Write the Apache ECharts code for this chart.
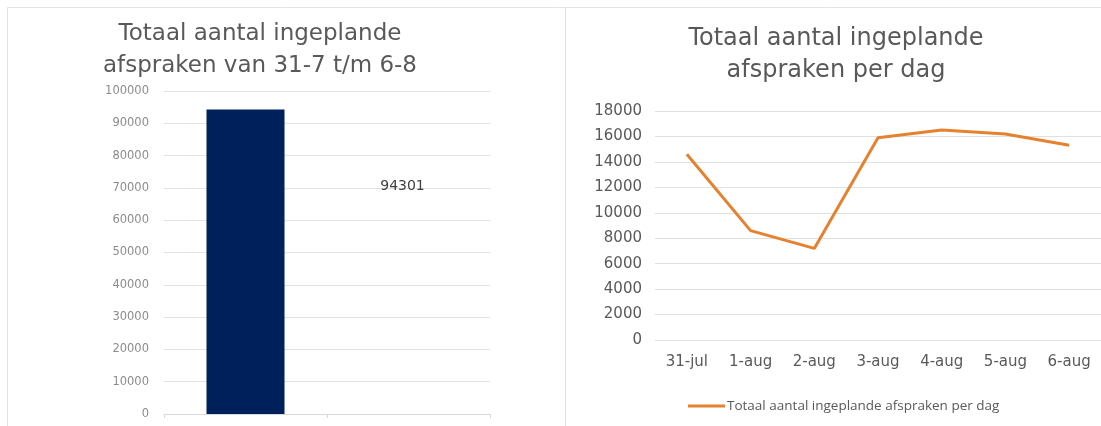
<!DOCTYPE html>
<html>
<head>
<meta charset="utf-8">
<script src="https://cdn.jsdelivr.net/npm/echarts@6/dist/echarts.min.js"></script>
<style>html,body{margin:0;padding:0;background:#fff;}#c{width:1101px;height:426px;}</style>
</head>
<body>
<div id="c"></div>
<script>
var totalCategories = ['', ''];
var totalValues = [94301, null];
var totalLabel = '94301';
var dayCategories = ['31-jul', '1-aug', '2-aug', '3-aug', '4-aug', '5-aug', '6-aug'];
var dayValues = [14600, 8600, 7200, 15900, 16500, 16200, 15301];
var seriesName = 'Totaal aantal ingeplande afspraken per dag';
var leftTitle = 'Totaal aantal ingeplande\nafspraken van 31-7 t/m 6-8';
var rightTitle = 'Totaal aantal ingeplande\nafspraken per dag';

var chart = echarts.init(document.getElementById('c'), null, {renderer: 'canvas'});
var font = 'DejaVu Sans';
var plain = function (v) { return String(v); };
chart.setOption({
  animation: false,
  backgroundColor: '#ffffff',
  title: [
    {text: leftTitle, left: 255, top: 13, textAlign: 'center',
     textStyle: {fontFamily: font, fontSize: 23, fontWeight: 'normal', color: '#595959', lineHeight: 32}},
    {text: rightTitle, left: 831, top: 18, textAlign: 'center',
     textStyle: {fontFamily: font, fontSize: 24, fontWeight: 'normal', color: '#595959', lineHeight: 32}}
  ],
  legend: {
    show: true, left: 683, top: 394, itemWidth: 37, itemHeight: 3, itemGap: 2,
    icon: 'rect',
    textStyle: {fontFamily: 'Open Sans', fontSize: 13.5, color: '#595959', padding: [0, 0, 0, -3]},
    data: [seriesName]
  },
  grid: [
    {left: 164, top: 91, width: 326, height: 323, containLabel: false},
    {left: 655, top: 111, width: 458, height: 229, containLabel: false}
  ],
  xAxis: [
    {type: 'category', gridIndex: 0, data: totalCategories,
     axisLine: {show: true, lineStyle: {color: '#d9d9d9'}},
     axisTick: {show: true, length: 4, lineStyle: {color: '#d9d9d9'}},
     axisLabel: {show: false}},
    {type: 'category', gridIndex: 1, data: dayCategories, boundaryGap: true,
     axisLine: {show: false}, axisTick: {show: false},
     axisLabel: {fontFamily: font, fontSize: 15, color: '#595959', margin: 15}}
  ],
  yAxis: [
    {type: 'value', gridIndex: 0, min: 0, max: 100000, interval: 10000,
     axisLine: {show: false}, axisTick: {show: false},
     axisLabel: {fontFamily: font, fontSize: 11.5, color: '#8c8c8c', margin: 15, formatter: plain},
     splitLine: {lineStyle: {color: '#e3e3e3'}}},
    {type: 'value', gridIndex: 1, min: 0, max: 18000, interval: 2000,
     axisLine: {show: false}, axisTick: {show: false},
     axisLabel: {fontFamily: font, fontSize: 15, color: '#595959', margin: 13, formatter: plain},
     splitLine: {lineStyle: {color: '#e0e0e0'}}}
  ],
  series: [
    {type: 'bar', xAxisIndex: 0, yAxisIndex: 0, data: totalValues, barWidth: 78,
     itemStyle: {color: '#00205b'},
     label: {show: true, position: 'top', offset: [157, 89], formatter: totalLabel,
       fontFamily: font, fontSize: 14, color: '#404040'}},
    {type: 'line', name: seriesName, xAxisIndex: 1, yAxisIndex: 1, data: dayValues,
     showSymbol: false, symbol: 'none',
     lineStyle: {color: '#e6812f', width: 3}, itemStyle: {color: '#e6812f'}}
  ],
  graphic: [
    {type: 'line', shape: {x1: 7.5, y1: 7.5, x2: 1101, y2: 7.5}, style: {stroke: '#e3e3e3', lineWidth: 1}},
    {type: 'line', shape: {x1: 7.5, y1: 7.5, x2: 7.5, y2: 426}, style: {stroke: '#e3e3e3', lineWidth: 1}},
    {type: 'line', shape: {x1: 565.5, y1: 7.5, x2: 565.5, y2: 426}, style: {stroke: '#e3e3e3', lineWidth: 1}}
  ]
});
</script>
</body>
</html>
